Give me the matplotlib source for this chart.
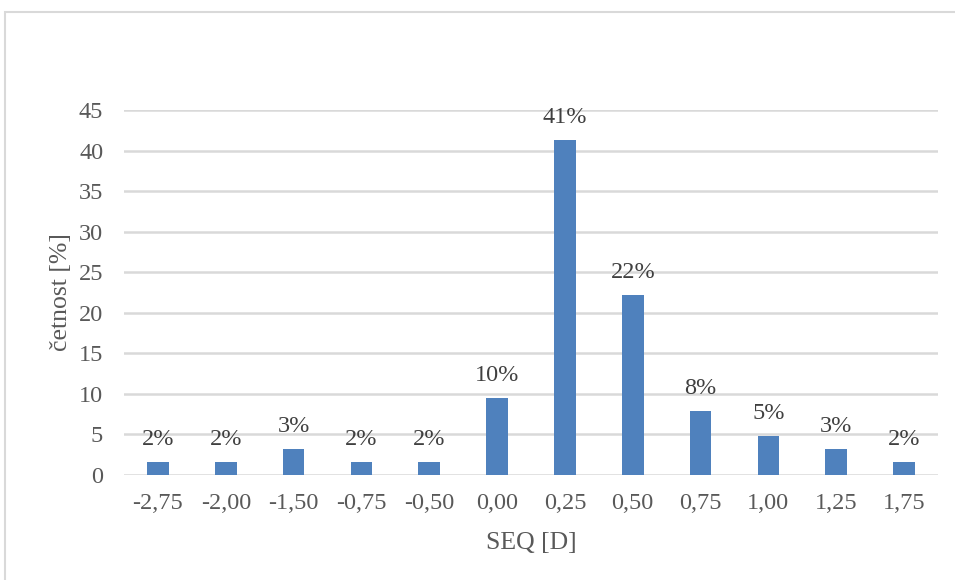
import matplotlib.pyplot as plt
from matplotlib.patches import Rectangle

categories = ['-2,75', '-2,00', '-1,50', '-0,75', '-0,50', '0,00',
              '0,25', '0,50', '0,75', '1,00', '1,25', '1,75']
values = [1.6, 1.6, 3.2, 1.6, 1.6, 9.5, 41.3, 22.2, 7.9, 4.8, 3.2, 1.6]
labels = ['2%', '2%', '3%', '2%', '2%', '10%', '41%', '22%', '8%', '5%', '3%', '2%']
yticks = [0, 5, 10, 15, 20, 25, 30, 35, 40, 45]

label_color = '#404040'
axis_text_color = '#595959'
grid_color = '#D9D9D9'
bar_color = '#4F81BD'
fs = 17.5

plt.rcParams['font.family'] = ['Liberation Serif', 'DejaVu Serif']

fig = plt.figure(figsize=(9.55, 5.8), dpi=100)
ax = fig.add_axes([124 / 955, 1 - 475 / 580, 814 / 955, 365 / 580])

x = list(range(len(categories)))
ax.bar(x, values, width=0.32, color=bar_color, zorder=3)

# data labels above each bar
for xi, v, lab in zip(x, values, labels):
    ax.annotate(lab, (xi, v), xytext=(0, 16), textcoords='offset points',
                ha='center', va='center', fontsize=fs, color=label_color)

ax.set_xlim(-0.5, len(categories) - 0.5)
ax.set_ylim(0, 45)
ax.set_yticks(yticks)
ax.set_yticklabels([str(t) for t in yticks])
ax.set_xticks(x)
ax.set_xticklabels(categories)
ax.tick_params(length=0, labelsize=fs, labelcolor=axis_text_color)
ax.tick_params(axis='y', pad=15)
ax.tick_params(axis='x', pad=13)

for t in yticks:
    ax.axhline(t, color=grid_color, lw=1.8, zorder=1)
for s in ax.spines.values():
    s.set_visible(False)

ax.set_xlabel('SEQ [D]', fontsize=18.5, color=axis_text_color, labelpad=13)
ax.set_ylabel('četnost [%]', fontsize=18.5, color=axis_text_color, labelpad=5)

fig.patches.append(Rectangle((5 / 955, -0.1), 1.2, 1 - 12 / 580 + 0.1,
                             transform=fig.transFigure, fill=False,
                             edgecolor=grid_color, lw=1.5))

fig.savefig('out.png', dpi=100)
